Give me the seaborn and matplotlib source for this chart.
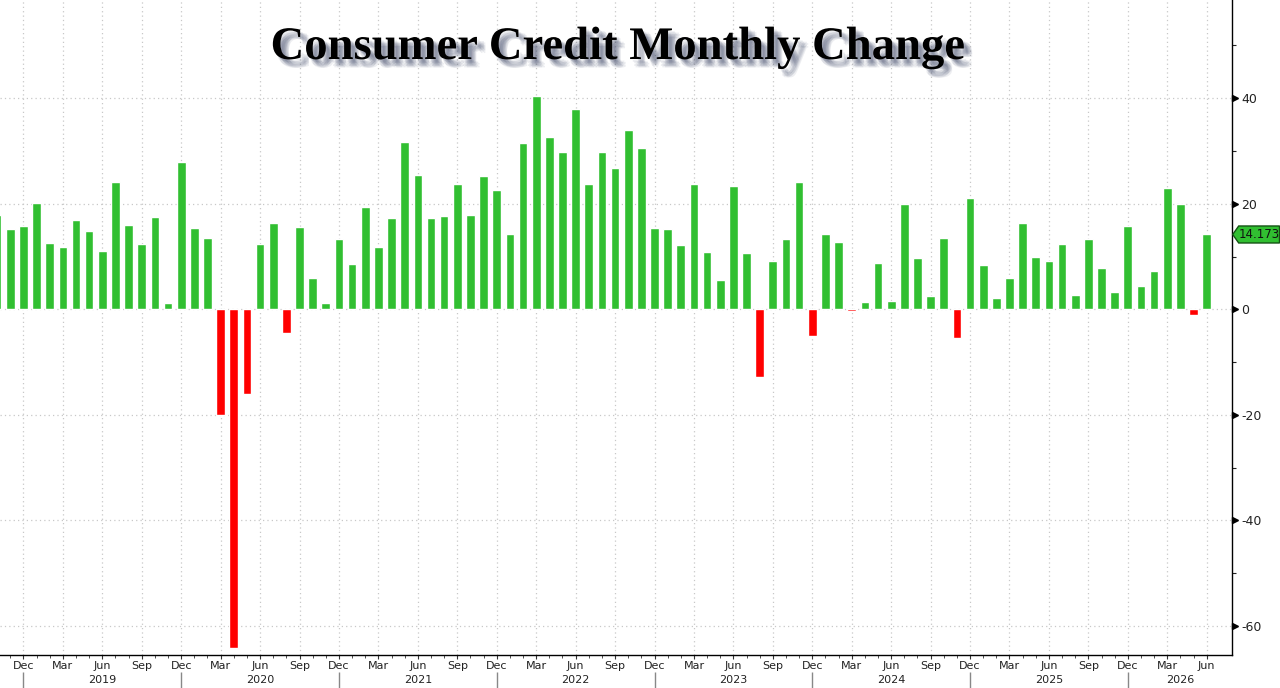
import numpy as np
import pandas as pd
import matplotlib
matplotlib.use("Agg")
import matplotlib.pyplot as plt
import matplotlib.patheffects as pe
import matplotlib.transforms as mtransforms
from matplotlib.patches import Polygon
from matplotlib.ticker import MultipleLocator, FixedLocator
import seaborn as sns

# ---------------- data ----------------
months = pd.period_range("2018-10", "2026-06", freq="M")
month_labels = [m.strftime("%b %Y") for m in months]
values = [
    17.9, 15.2, 15.8, 20.2, 12.6, 11.75, 16.9, 14.85, 11.0, 24.1,
    16.0, 12.3, 17.5, 1.1, 27.9, 15.4, 13.5, -20.0, -64.2, -16.1,
    12.4, 16.4, -4.5, 15.6, 5.9, 1.1, 13.3, 8.6, 19.3, 11.75,
    17.3, 31.7, 25.5,
    17.25, 17.6, 23.8, 17.8, 25.2, 22.6,
    14.3, 31.5, 40.4, 32.6, 29.8, 37.9, 23.8, 29.8, 26.7, 34.0, 30.6, 15.4,
    15.2, 12.1, 23.8, 10.9, 5.6, 23.4, 10.7, -12.9, 9.1, 13.3, 24.1, -5.0,
    14.3, 12.8, -0.25, 1.3, 8.8, 1.5, 19.9, 9.7, 2.6, 13.5, -5.5, 21.0,
    8.4, 2.1, 5.9, 16.3, 10.0, 9.1, 12.4, 2.8, 13.3, 7.8, 3.35, 15.8,
    4.4, 7.3, 22.9, 20.0, -1.0, 14.173,
]
assert len(values) == len(month_labels)
years = ["2019", "2020", "2021", "2022", "2023", "2024", "2025", "2026"]
y_ticks = [-60, -40, -20, 0, 20, 40]
title = "Consumer Credit Monthly Change"
last_label = "14.173"

GREEN = "#31bf31"
RED = "#ff0000"

df = pd.DataFrame({"month": month_labels, "value": values})
df["sign"] = np.where(df["value"] >= 0, "pos", "neg")

# ---------------- figure ----------------
sns.set_theme(style="white")
plt.rcParams["font.family"] = ["DejaVu Sans"]

W, H = 1280, 688
fig = plt.figure(figsize=(W / 100, H / 100), dpi=100)
ax_right_px, ax_bottom_px = 1231.7, 655
ax = fig.add_axes([0, 1 - ax_bottom_px / H, ax_right_px / W, ax_bottom_px / H])

sns.barplot(data=df, x="month", y="value", hue="sign",
            palette={"pos": GREEN, "neg": RED}, dodge=False, width=0.66,
            saturation=1, legend=False, ax=ax, order=month_labels)

xmin, xmax = 0.22, 93.9
ax.set_xlim(xmin, xmax)
ax.set_ylim(-65.5, 58.6)

# x ticks: quarterly labels, monthly minor ticks
n = len(month_labels)
q_idx = list(range(2, n, 3))
ax.set_xticks(q_idx)
ax.set_xticklabels([months[i].strftime("%b") for i in q_idx], fontsize=8, color="#222222")
ax.xaxis.set_minor_locator(FixedLocator(list(range(n))))
ax.tick_params(axis="x", which="major", length=3, width=0.8, color="#333333", pad=1, direction="out", bottom=True)
ax.tick_params(axis="x", which="minor", length=2.5, width=0.6, color="#333333", direction="out", bottom=True)
ax.set_xlabel("")

# y axis on right
ax.yaxis.tick_right()
ax.set_yticks(y_ticks)
ax.set_yticklabels([str(v) for v in y_ticks], fontsize=9, color="#222222")
ax.yaxis.set_minor_locator(MultipleLocator(10))
ax.tick_params(axis="y", which="major", length=0, pad=7, right=True, left=False)
ax.tick_params(axis="y", which="minor", length=3, width=0.8, color="#222222", right=True, left=False)
ax.set_ylabel("")
blend_y = mtransforms.blended_transform_factory(ax.transAxes, ax.transData)
ax.plot([1.0028] * len(y_ticks), y_ticks, ls="none", marker=">", ms=5,
        color="black", transform=blend_y, clip_on=False)

# grid
for i in q_idx:
    ax.axvline(i, color="#c8c8c8", lw=0.9, ls=(0, (1, 2.5)), zorder=0)
for v in y_ticks:
    ax.axhline(v, color="#c8c8c8", lw=0.9, ls=(0, (1, 2.5)), zorder=0)

# spines
for s in ["top", "left"]:
    ax.spines[s].set_visible(False)
for s in ["bottom", "right"]:
    ax.spines[s].set_visible(True)
    ax.spines[s].set_color("black")
    ax.spines[s].set_linewidth(1.0)

# year separators and labels
blend_x = ax.get_xaxis_transform()
dec_idx = list(range(2, n, 12))
ax.vlines(dec_idx, -(688 - 655) / 655, -(672 - 655) / 655, transform=blend_x,
          color="#888888", lw=1, clip_on=False)
bounds = dec_idx + [xmax]
for k, yr in enumerate(years):
    cx = (bounds[k] + bounds[k + 1]) / 2
    ax.text(cx, -(680 - 655) / 655, yr, transform=blend_x, ha="center", va="center",
            fontsize=8, color="#222222", clip_on=False)

# title with soft shadow
shadow = [pe.SimplePatchShadow(offset=(dx, dy), shadow_rgbFace="#3c4666", alpha=0.09)
          for dx, dy in [(2, -2), (3, -3), (4, -4), (5, -5), (3, -5), (5, -3), (6, -6), (4, -6), (6, -4)]]
fig.text(617.5 / W, 1 - 59 / H, title, ha="center", va="baseline",
         fontfamily="Liberation Serif", fontweight="bold", fontsize=33.6, color="black",
         path_effects=shadow + [pe.Normal()])

# last value tag
fig.canvas.draw()
_, py = ax.transData.transform((0, values[-1]))
x0 = ax_right_px + 1
hh = 8.5
pts = [(x0, py), (x0 + 6, py + hh), (W - 0.5, py + hh), (W - 0.5, py - hh), (x0 + 6, py - hh)]
tag = Polygon(pts, closed=True, facecolor=GREEN, edgecolor="#145214", lw=1,
              transform=mtransforms.IdentityTransform(), clip_on=False)
fig.add_artist(tag)
fig.text((x0 + 6 + W) / 2 / W, py / H, last_label, ha="center", va="center",
         fontsize=8.5, color="#111111")

fig.savefig("out.png", dpi=100)
